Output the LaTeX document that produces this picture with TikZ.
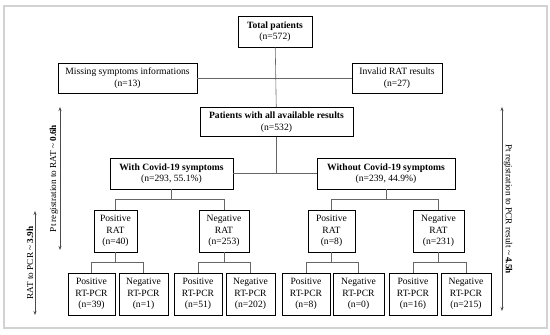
\documentclass[tikz,border=0pt]{standalone}
\usepackage{fontspec}
\setmainfont{Liberation Serif}
\usetikzlibrary{calc,arrows.meta}

\begin{document}
\begin{tikzpicture}[
    x=1pt, y=-1pt,
    box/.style={rectangle, draw, line width=0.9pt, align=center, inner sep=1pt,
                font=\fontsize{9.6}{11.5}\selectfont},
    wh/.style 2 args={minimum width=#1pt, minimum height=#2pt},
    tree/.style={draw=black!60, line width=0.6pt},
    span/.style={{Stealth[length=4pt]}-{Stealth[length=4pt]}, draw=black!70, line width=0.6pt},
    lbl/.style={sloped, above, inner sep=1.5pt, text=black, font=\fontsize{9.2}{11}\selectfont}
]
\useasboundingbox (0,0) rectangle (550,335);
\draw[gray!35, line width=1.2pt] (4,6) rectangle (547,328);

%% Top
\node[box, wh={74}{31}] (total) at (275,31.5) {\textbf{Total patients}\\(n=572)};
\node[box, wh={139}{30}] (missing) at (127.5,78) {Missing symptoms informations\\(n=13)};
\node[box, wh={90}{30}] (invalid) at (397,78) {Invalid RAT results\\(n=27)};
\node[box, wh={153}{29}] (avail) at (276.5,122) {\textbf{Patients with all available results}\\(n=532)};

%% Symptoms
\node[box, wh={123}{31}] (withc) at (171.5,173.5) {\textbf{With Covid-19 symptoms}\\(n=293, 55.1\%)};
\node[box, wh={138}{31}] (withoutc) at (386,173.5) {\textbf{Without Covid-19 symptoms}\\(n=239, 44.9\%)};

%% RAT
\node[box, wh={43}{42}] (wpos) at (115.5,231) {Positive\\RAT\\(n=40)};
\node[box, wh={50}{42}] (wneg) at (224,231) {Negative\\RAT\\(n=253)};
\node[box, wh={47}{42}] (opos) at (331.5,231) {Positive\\RAT\\(n=8)};
\node[box, wh={51}{42}] (oneg) at (438.5,231) {Negative\\RAT\\(n=231)};

%% RT-PCR
\node[box, wh={47}{42}] (pcr1) at (91.5,294) {Positive\\RT-PCR\\(n=39)};
\node[box, wh={49}{42}] (pcr2) at (143.5,294) {Negative\\RT-PCR\\(n=1)};
\node[box, wh={48}{42}] (pcr3) at (198,294) {Positive\\RT-PCR\\(n=51)};
\node[box, wh={49}{42}] (pcr4) at (250.5,294) {Negative\\RT-PCR\\(n=202)};
\node[box, wh={48}{42}] (pcr5) at (306,294) {Positive\\RT-PCR\\(n=8)};
\node[box, wh={51}{42}] (pcr6) at (358.5,294) {Negative\\RT-PCR\\(n=0)};
\node[box, wh={48}{42}] (pcr7) at (413,294) {Positive\\RT-PCR\\(n=16)};
\node[box, wh={50}{42}] (pcr8) at (466,294) {Negative\\RT-PCR\\(n=215)};

%% Connectors
\draw[tree] (total) -- (avail);
\draw[tree] (missing) -- (invalid);
\draw[tree] (avail) -- (avail |- withc);
\draw[tree] (withc) -- (withoutc);
\foreach \p/\a/\b in {withc/wpos/wneg, withoutc/opos/oneg,
                      wpos/pcr1/pcr2, wneg/pcr3/pcr4, opos/pcr5/pcr6, oneg/pcr7/pcr8} {
  \coordinate (mid) at ($(\p.south)!0.5!(\p.south |- \a.north)$);
  \draw[tree] (\p.south) -- (mid);
  \draw[tree] (\a.north) |- (mid) -| (\b.north);
}

%% Time spans
\coordinate (regt) at (60,107);
\coordinate (regb) at (60,250);
\coordinate (pcrt) at (35,211);
\coordinate (pcrb) at (35,315);
\coordinate (allt) at (502,107);
\coordinate (allb) at (502,311);
\draw[span] (regb) -- node[lbl] {Pt registration to RAT \textasciitilde{} \textbf{0.6h}} (regt);
\draw[span] (pcrb) -- node[lbl] {RAT to PCR \textasciitilde{} \textbf{3.9h}} (pcrt);
\draw[span] (allt) -- node[lbl] {Pt registration to PCR result \textasciitilde{} \textbf{4.5h}} (allb);

\end{tikzpicture}
\end{document}
